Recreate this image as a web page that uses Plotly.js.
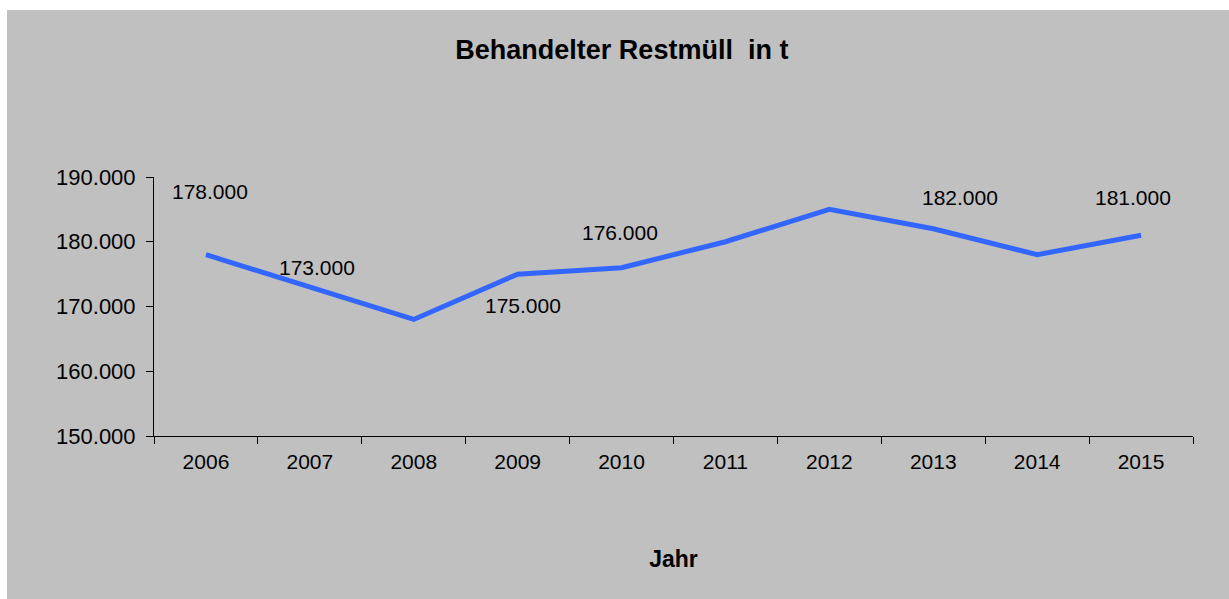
<!DOCTYPE html>
<html>
<head>
<meta charset="utf-8">
<script src="https://cdn.plot.ly/plotly-3.0.1.min.js"></script>
<style>html,body{margin:0;padding:0;background:#fff;}#chart{width:1229px;height:599px;}</style>
</head>
<body>
<div id="chart"></div>
<script>
// Data
const years = ["2006","2007","2008","2009","2010","2011","2012","2013","2014","2015"];
const restmuell = [178000,173000,168000,175000,176000,180000,185000,182000,178000,181000];
const labeledYears = ["2006","2007","2009","2010","2013","2015"];
// Label placement offsets in pixels (styling, not data)
const labelShiftX = [4, 7, 5, -2, 27, -8];
const labelShiftY = [63, 20, -31, 35, 31, 38];

function fmt(v){ return String(v).replace(/\B(?=(\d{3})+(?!\d))/g, "."); }

const FONT = "Liberation Sans, Arial, sans-serif";

const annotations = labeledYears.map((yr, i) => {
  const idx = years.indexOf(yr);
  const v = restmuell[idx];
  return {
    x: idx, y: v, xref: "x", yref: "y",
    text: fmt(v), showarrow: false,
    xanchor: "center", yanchor: "middle",
    xshift: labelShiftX[i], yshift: labelShiftY[i],
    font: {family: FONT, size: 21, color: "#000"}
  };
});

const trace = {
  type: "scatter", mode: "lines",
  x: years, y: restmuell,
  line: {color: "#3366ff", width: 5},
  hoverinfo: "x+y"
};

const layout = {
  width: 1229, height: 599,
  margin: {l: 154, r: 36, t: 177, b: 163, pad: 0},
  paper_bgcolor: "#c0c0c0",
  plot_bgcolor: "#c0c0c0",
  separators: ",.",
  showlegend: false,
  font: {family: FONT, size: 21, color: "#000"},
  title: {
    text: "<b>Behandelter Restmüll&nbsp; in t</b>",
    font: {family: FONT, size: 27, color: "#000"},
    x: 0.506, xanchor: "center", xref: "container",
    y: 1 - 50/599, yanchor: "middle", yref: "container"
  },
  xaxis: {
    type: "category",
    range: [-0.5, 9.5],
    showline: true, linecolor: "#000", linewidth: 1,
    showgrid: false, zeroline: false,
    ticks: "outside", ticklen: 7, tickcolor: "#000", tickwidth: 1,
    tickson: "boundaries",
    ticklabelstandoff: 7,
    tickfont: {family: FONT, size: 21, color: "#000"},
    title: {text: "<b>Jahr</b>", font: {family: FONT, size: 23, color: "#000"}, standoff: 78},
    fixedrange: true
  },
  yaxis: {
    range: [150000, 190000],
    tick0: 150000, dtick: 10000,
    tickformat: ",d",
    showline: true, linecolor: "#000", linewidth: 1,
    showgrid: false, zeroline: false,
    ticks: "outside", ticklen: 7, tickcolor: "#000", tickwidth: 1,
    tickfont: {family: FONT, size: 22, color: "#000"},
    ticklabelstandoff: 6,
    fixedrange: true
  },
  shapes: [
    {type: "rect", xref: "paper", yref: "paper", x0: -0.1482, x1: (7-154)/1039, y0: -1, y1: 2,
     fillcolor: "#ffffff", line: {width: 0}, layer: "below"},
    {type: "rect", xref: "paper", yref: "paper", x0: -0.2, x1: 1.2, y0: (436-10)/259, y1: (436+1)/259,
     fillcolor: "#ffffff", line: {width: 0}, layer: "below"}
  ],
  annotations: annotations
};

Plotly.newPlot("chart", [trace], layout, {displayModeBar: false, staticPlot: true});
</script>
</body>
</html>
